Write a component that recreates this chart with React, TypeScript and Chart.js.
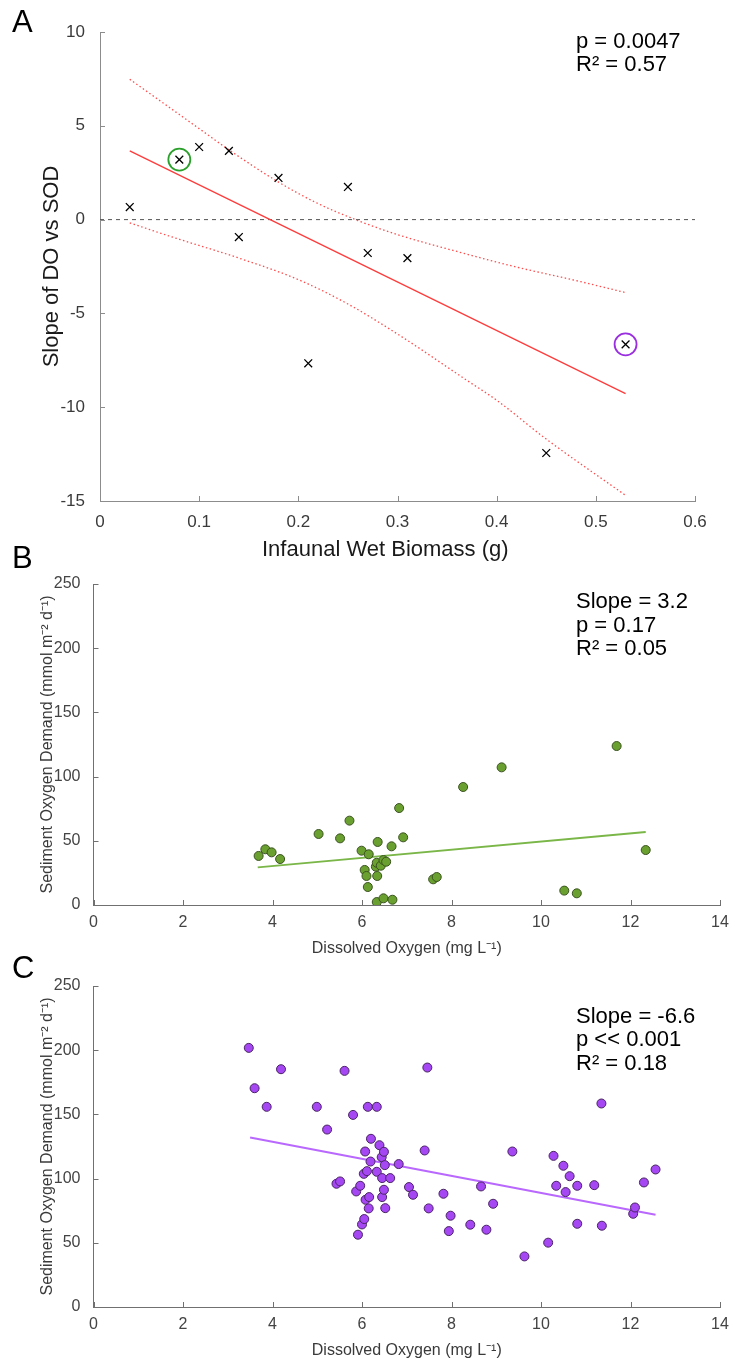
import React, { useEffect, useRef } from "react";
import { Chart, registerables } from "chart.js";
Chart.register(...registerables);

const FONT = '"Liberation Sans", Arial, Helvetica, sans-serif';

// ---------- Panel A data ----------
const biomassA = [0.03, 0.08, 0.10, 0.13, 0.14, 0.18, 0.21, 0.25, 0.27, 0.31, 0.45, 0.53];
const slopeA = [0.67, 3.2, 3.87, 3.66, -0.93, 2.22, -7.66, 1.74, -1.78, -2.05, -12.44, -6.65];
const greenMarkX = [0.08];
const greenMarkY = [3.2];
const purpleMarkX = [0.53];
const purpleMarkY = [-6.65];
const fitAX = [0.03, 0.53];
const fitAY = [3.66, -9.28];
const upperAX = [0.03, 0.10, 0.13, 0.18, 0.22, 0.26, 0.30, 0.36, 0.42, 0.48, 0.53];
const upperAY = [7.48, 4.85, 3.72, 2.0, 0.85, -0.05, -0.8, -1.7, -2.53, -3.25, -3.89];
const lowerAX = [0.03, 0.08, 0.14, 0.20, 0.25, 0.30, 0.37, 0.40, 0.45, 0.53];
const lowerAY = [-0.18, -1.05, -2.05, -3.2, -4.5, -6.1, -8.57, -9.63, -11.7, -14.70];
const zeroAX = [0, 0.6];
const zeroAY = [0, 0];
const ticksAX = [0, 0.1, 0.2, 0.3, 0.4, 0.5, 0.6];
const ticksAY = [-15, -10, -5, 0, 5, 10];

// ---------- Panel B data ----------
const doB = [3.69, 3.84, 3.98, 4.17, 5.03, 5.51, 5.72, 5.99, 6.15, 6.35, 6.66, 6.83, 6.92, 6.06, 6.10, 6.13, 6.34, 6.31, 6.33, 6.42, 6.48, 6.54, 6.33, 6.48, 6.68, 7.59, 7.67, 8.26, 9.12, 11.69, 12.34, 10.52, 10.80];
const sodB = [38.2, 43.4, 41.0, 35.8, 55.3, 51.9, 65.7, 42.3, 39.5, 49.1, 45.7, 75.5, 52.7, 27.3, 22.6, 14.0, 22.6, 29.8, 32.9, 30.6, 35.0, 33.7, 2.3, 5.2, 4.1, 20.0, 21.8, 91.9, 107.2, 123.8, 42.8, 11.2, 9.1];
const fitBX = [3.67, 12.34];
const fitBY = [29.3, 56.9];

// ---------- Panel C data ----------
const doC = [3.47, 3.60, 3.87, 4.19, 4.99, 5.22, 5.43, 5.51, 5.61, 5.80, 5.87, 5.96, 5.91, 6.00, 6.05, 6.04, 6.07, 6.08, 6.11, 6.13, 6.15, 6.16, 6.19, 6.20, 6.33, 6.33, 6.39, 6.44, 6.45, 6.45, 6.49, 6.49, 6.51, 6.52, 6.63, 6.82, 7.05, 7.14, 7.40, 7.46, 7.49, 7.82, 7.94, 7.98, 8.42, 8.66, 8.78, 8.93, 9.36, 9.63, 10.16, 10.28, 10.34, 10.50, 10.55, 10.64, 10.81, 10.81, 11.19, 11.35, 11.36, 12.06, 12.10, 12.30, 12.56];
const sodC = [201.8, 170.4, 155.9, 185.2, 155.9, 138.2, 96.0, 97.8, 183.9, 149.6, 90.0, 94.4, 56.3, 64.3, 68.5, 103.7, 121.1, 83.5, 105.8, 155.9, 76.8, 85.6, 113.3, 131.0, 155.9, 105.3, 126.0, 116.7, 100.4, 85.6, 91.3, 120.9, 110.5, 77.0, 100.4, 111.3, 93.4, 87.4, 121.9, 186.5, 76.8, 88.2, 59.1, 71.1, 64.1, 93.9, 60.2, 80.4, 121.1, 39.4, 50.1, 117.7, 94.4, 110.0, 89.5, 101.9, 94.4, 64.8, 94.9, 158.5, 63.3, 72.6, 77.5, 97.0, 107.1];
const fitCX = [3.50, 12.56];
const fitCY = [132.0, 71.8];

const ticksDOX = [0, 2, 4, 6, 8, 10, 12, 14];
const ticksSODY = [0, 50, 100, 150, 200, 250];

const pts = (xs: number[], ys: number[]) => xs.map((x, i) => ({ x, y: ys[i] }));

const inwardTicks = {
  id: "inTicks",
  afterDatasetsDraw(chart: any, _args: any, opts: any) {
    const { ctx, chartArea, scales } = chart;
    const len = opts.len || 5;
    ctx.save();
    ctx.strokeStyle = opts.color || "#808080";
    ctx.lineWidth = 1;
    scales.x.ticks.forEach((t: any) => {
      const px = Math.round(scales.x.getPixelForValue(t.value)) + 0.5;
      ctx.beginPath();
      ctx.moveTo(px, chartArea.bottom);
      ctx.lineTo(px, chartArea.bottom - len);
      ctx.stroke();
    });
    scales.y.ticks.forEach((t: any) => {
      const py = Math.round(scales.y.getPixelForValue(t.value)) + 0.5;
      ctx.beginPath();
      ctx.moveTo(chartArea.left, py);
      ctx.lineTo(chartArea.left + len, py);
      ctx.stroke();
    });
    ctx.restore();
  },
};

const annot = {
  id: "annot",
  afterDraw(chart: any, _args: any, opts: any) {
    const ctx = chart.ctx;
    ctx.save();
    (opts.items || []).forEach((it: any) => {
      ctx.font = it.font;
      ctx.fillStyle = it.color || "#000";
      ctx.textAlign = "left";
      ctx.textBaseline = "alphabetic";
      ctx.fillText(it.text, it.x, it.y);
    });
    ctx.restore();
  },
};

function buildChart(canvas: HTMLCanvasElement, p: any) {
  return new Chart(canvas, {
    type: "scatter",
    data: { datasets: p.datasets },
    options: {
      animation: false,
      responsive: false,
      devicePixelRatio: 1,
      layout: { padding: p.padding },
      plugins: {
        legend: { display: false },
        tooltip: { enabled: false },
        inTicks: { color: p.axisColor, len: 5 },
        annot: { items: p.texts },
      } as any,
      scales: {
        x: {
          type: "linear",
          min: p.xMin,
          max: p.xMax,
          afterBuildTicks: (s: any) => {
            s.ticks = p.xTicks.map((v: number) => ({ value: v }));
          },
          afterFit: (s: any) => {
            s.height = p.xAxisH;
          },
          grid: { display: false },
          border: { display: true, color: p.axisColor, width: 1 },
          ticks: {
            font: { family: FONT, size: p.tickSize },
            color: p.tickColor,
            padding: p.xTickPad,
            maxRotation: 0,
            autoSkip: false,
            callback: (v: any) => String(Math.round(Number(v) * 10) / 10),
          },
          title: {
            display: true,
            text: p.xTitle,
            font: { family: FONT, size: p.titleSize },
            color: p.titleColor,
            padding: { top: 0, bottom: p.xTitlePad },
          },
        },
        y: {
          type: "linear",
          min: p.yMin,
          max: p.yMax,
          afterBuildTicks: (s: any) => {
            s.ticks = p.yTicks.map((v: number) => ({ value: v }));
          },
          afterFit: (s: any) => {
            s.width = p.yAxisW;
          },
          grid: { display: false },
          border: { display: true, color: p.axisColor, width: 1 },
          ticks: {
            font: { family: FONT, size: p.tickSize },
            color: p.tickColor,
            padding: p.yTickPad,
            autoSkip: false,
            callback: (v: any) => String(Math.round(Number(v) * 10) / 10),
          },
          title: {
            display: true,
            text: p.yTitle,
            font: { family: FONT, size: p.titleSize },
            color: p.titleColor,
            padding: { top: 4, bottom: 0 },
          },
        },
      },
    } as any,
    plugins: [inwardTicks, annot] as any,
  });
}

const lineDs = (xs: number[], ys: number[], color: string, width: number, dash: number[] = [], smooth = false) => ({
  type: "line",
  data: pts(xs, ys),
  showLine: true,
  borderColor: color,
  borderWidth: width,
  borderDash: dash,
  pointRadius: 0,
  fill: false,
  tension: smooth ? 0.4 : 0,
  cubicInterpolationMode: smooth ? "monotone" : "default",
});

export default function App() {
  const refA = useRef<HTMLCanvasElement>(null);
  const refB = useRef<HTMLCanvasElement>(null);
  const refC = useRef<HTMLCanvasElement>(null);

  useEffect(() => {
    const charts: Chart[] = [];
    const annFont = `22px ${FONT}`;
    const letterFont = `31px ${FONT}`;

    charts.push(
      buildChart(refA.current!, {
        padding: { left: 35, right: 38, top: 32, bottom: 3 },
        yAxisW: 65,
        xAxisH: 62,
        xMin: 0, xMax: 0.6, yMin: -15, yMax: 10,
        xTicks: ticksAX, yTicks: ticksAY,
        tickSize: 17, tickColor: "#3a3a3a", axisColor: "#8c8c8c",
        xTickPad: 3, yTickPad: 7,
        titleSize: 22, titleColor: "#1a1a1a",
        xTitle: "Infaunal Wet Biomass (g)    ",
        yTitle: "Slope of DO vs SOD",
        xTitlePad: 0,
        texts: [
          { text: "A", x: 12, y: 31.7, font: letterFont },
          { text: "p = 0.0047", x: 576, y: 47.7, font: annFont },
          { text: "R\u00B2 = 0.57", x: 576, y: 70.7, font: annFont },
        ],
        datasets: [
          {
            data: pts(biomassA, slopeA),
            pointStyle: "crossRot",
            pointRadius: 5.5,
            borderColor: "#000000",
            borderWidth: 1.3,
          },
          {
            data: pts(greenMarkX, greenMarkY),
            pointStyle: "circle",
            pointRadius: 11,
            borderColor: "#2ca02c",
            backgroundColor: "rgba(0,0,0,0)",
            borderWidth: 1.8,
          },
          {
            data: pts(purpleMarkX, purpleMarkY),
            pointStyle: "circle",
            pointRadius: 11,
            borderColor: "#9a2fe0",
            backgroundColor: "rgba(0,0,0,0)",
            borderWidth: 1.8,
          },
          lineDs(fitAX, fitAY, "#ff3b3b", 1.3),
          lineDs(upperAX, upperAY, "#ff4d4d", 1.3, [1.5, 2.5], true),
          lineDs(lowerAX, lowerAY, "#ff4d4d", 1.3, [1.5, 2.5], true),
          lineDs(zeroAX, zeroAY, "#555555", 1, [4, 4]),
        ],
      })
    );

    const sodTitle = "Sediment Oxygen Demand (mmol m\u207B\u00B2 d\u207B\u00B9)";
    const doTitle = "Dissolved Oxygen (mg L\u207B\u00B9)";

    charts.push(
      buildChart(refB.current!, {
        padding: { left: 34, right: 13, top: 44, bottom: 0 },
        yAxisW: 59.5,
        xAxisH: 55,
        xMin: 0, xMax: 14, yMin: 0, yMax: 250,
        xTicks: ticksDOX, yTicks: ticksSODY,
        tickSize: 16, tickColor: "#444444", axisColor: "#707070",
        xTickPad: 0, yTickPad: 5,
        titleSize: 16, titleColor: "#3a3a3a",
        xTitle: doTitle, yTitle: sodTitle,
        xTitlePad: 1.7,
        texts: [
          { text: "B", x: 12, y: 28, font: letterFont },
          { text: "Slope = 3.2", x: 576, y: 68.3, font: annFont },
          { text: "p = 0.17", x: 576, y: 91.7, font: annFont },
          { text: "R\u00B2 = 0.05", x: 576, y: 115, font: annFont },
        ],
        datasets: [
          {
            data: pts(doB, sodB),
            pointStyle: "circle",
            pointRadius: 4.5,
            backgroundColor: "#6aa030",
            borderColor: "#3b5320",
            borderWidth: 1,
          },
          lineDs(fitBX, fitBY, "#7ab648", 2),
        ],
      })
    );

    charts.push(
      buildChart(refC.current!, {
        padding: { left: 34, right: 13, top: 41, bottom: 0 },
        yAxisW: 59.5,
        xAxisH: 55,
        xMin: 0, xMax: 14, yMin: 0, yMax: 250,
        xTicks: ticksDOX, yTicks: ticksSODY,
        tickSize: 16, tickColor: "#444444", axisColor: "#707070",
        xTickPad: 0, yTickPad: 5,
        titleSize: 16, titleColor: "#3a3a3a",
        xTitle: doTitle, yTitle: sodTitle,
        xTitlePad: 1.4,
        texts: [
          { text: "C", x: 12, y: 33, font: letterFont },
          { text: "Slope = -6.6", x: 576, y: 78, font: annFont },
          { text: "p << 0.001", x: 576, y: 101, font: annFont },
          { text: "R\u00B2 = 0.18", x: 576, y: 125, font: annFont },
        ],
        datasets: [
          {
            data: pts(doC, sodC),
            pointStyle: "circle",
            pointRadius: 4.5,
            backgroundColor: "#a547f2",
            borderColor: "#4a2466",
            borderWidth: 1,
          },
          lineDs(fitCX, fitCY, "#b968ff", 2),
        ],
      })
    );

    return () => charts.forEach((c) => c.destroy());
  }, []);

  const cs = (top: number): React.CSSProperties => ({ position: "absolute", left: 0, top, display: "block" });

  return (
    <div style={{ position: "absolute", left: 0, top: 0, width: 733, height: 1362, background: "#ffffff", overflow: "hidden" }}>
      <canvas ref={refA} width={733} height={566} style={cs(0)} />
      <canvas ref={refB} width={733} height={420} style={cs(540)} />
      <canvas ref={refC} width={733} height={417} style={cs(945)} />
    </div>
  );
}
